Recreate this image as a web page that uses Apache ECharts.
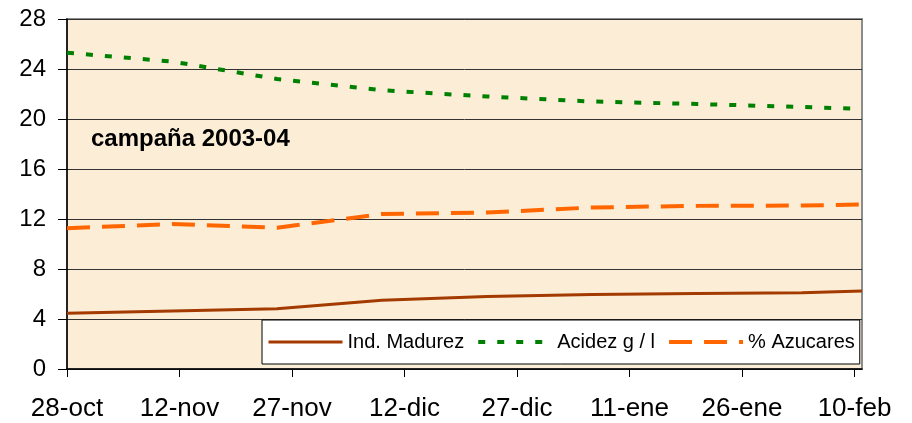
<!DOCTYPE html>
<html>
<head>
<meta charset="UTF-8">
<title>campaña 2003-04</title>
<script type="text/javascript" src="https://cdn.jsdelivr.net/npm/echarts@6/dist/echarts.min.js"></script>
<style>
  html, body { margin: 0; padding: 0; background: #fff; }
</style>
</head>
<body>
<div id="main" style="width:912px;height:423px"></div>

<script type="text/javascript">
	// days after 28-oct-2003 for each sample
	var dayOffsets = [0, 14, 28, 42, 56, 70, 84, 98, 106];
	var madurez = [4.46, 4.64, 4.82, 5.5, 5.8, 5.96, 6.04, 6.1, 6.24];
	var acidez = [25.3, 24.6, 23.2, 22.3, 21.8, 21.4, 21.2, 20.96, 20.8];
	var azucares = [11.26, 11.6, 11.3, 12.4, 12.52, 12.92, 13.05, 13.08, 13.16];
	var tickLabels = ['28-oct', '12-nov', '27-nov', '12-dic', '27-dic', '11-ene', '26-ene', '10-feb'];
	var seriesNames = ['Ind. Madurez', 'Acidez g / l', '% Azucares'];

	var font = 'Liberation Sans, Arial, sans-serif';
	var tickValues = tickLabels.map(function (t, i) { return i * 15; });
	var styles = [
		{ color: '#A33A00', width: 3, type: 'solid' },
		{ color: '#008000', width: 4, type: [7, 12] },
		{ color: '#FF6600', width: 4, type: [23, 12] }
	];
	var values = [madurez, acidez, azucares];

	function pairs(vals) {
		return vals.map(function (v, i) { return [dayOffsets[i], v]; });
	}

	var mychart = echarts.init(document.getElementById('main'));
	var option = {
		animation: false,
		title: {
			text: 'campaña 2003-04',
			left: 91, top: 127, padding: 0,
			textStyle: { fontFamily: font, fontSize: 24, fontWeight: 'bold', color: '#000' }
		},
		legend: {
			data: seriesNames.map(function (n, i) {
				return { name: n, lineStyle: styles[i], itemStyle: { opacity: 0 } };
			}),
			left: 262, top: 320,
			padding: [12, 5],
			itemGap: 12,
			itemWidth: 74, itemHeight: 14,
			backgroundColor: '#fff',
			borderColor: '#000', borderWidth: 1, borderRadius: 0,
			textStyle: { fontFamily: font, fontSize: 20, color: '#000' }
		},
		grid: {
			left: 67, top: 19, right: 50, bottom: 54,
			show: true,
			backgroundColor: '#FCEED6',
			borderColor: '#8c8c8c', borderWidth: 2
		},
		xAxis: {
			type: 'value',
			min: 0, max: 106, interval: 15,
			axisLine: { show: true, lineStyle: { color: '#000', width: 1.5 } },
			axisTick: { show: true, length: 8, customValues: tickValues, lineStyle: { color: '#000' } },
			axisLabel: {
				customValues: tickValues,
				margin: 27,
				fontFamily: font, fontSize: 26, color: '#000',
				formatter: function (v) {
					var i = Math.round(v / 15);
					return tickLabels[i] || '';
				}
			},
			splitLine: { show: false }
		},
		yAxis: {
			type: 'value',
			min: 0, max: 28, interval: 4,
			axisLine: { show: true, lineStyle: { color: '#000', width: 1.5 } },
			axisTick: { show: true, length: 9, lineStyle: { color: '#000' } },
			axisLabel: { margin: 21, fontFamily: font, fontSize: 24, color: '#000' },
			splitLine: { show: true, lineStyle: { color: '#333', width: 1 } }
		},
		series: seriesNames.map(function (n, i) {
			return {
				name: n,
				type: 'line',
				data: pairs(values[i]),
				symbol: 'none',
				lineStyle: styles[i],
				itemStyle: { color: styles[i].color }
			};
		})
	};
	mychart.setOption(option);
</script>
</body>
</html>
